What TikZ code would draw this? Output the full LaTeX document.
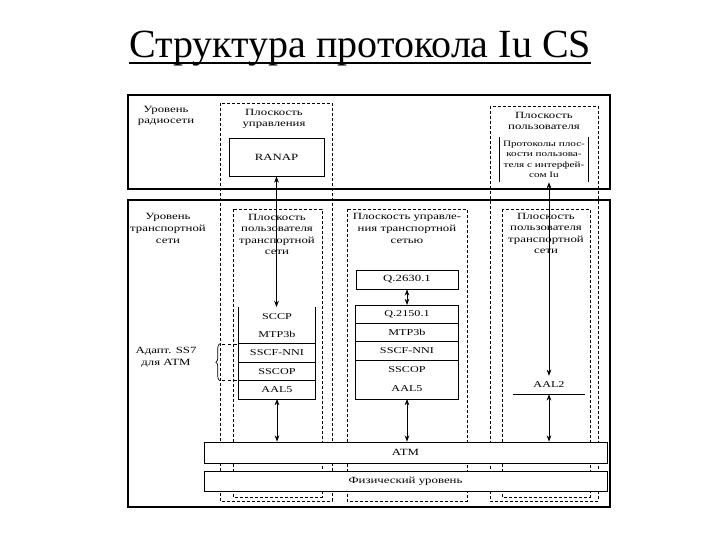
\documentclass[tikz,border=0pt]{standalone}
\usepackage{fontspec}
\setmainfont{Liberation Serif}
\newfontfamily\dgfont[FakeStretch=1.35]{Liberation Serif}
\usetikzlibrary{positioning,arrows.meta,decorations.pathreplacing}
\tikzset{
  frm/.style={draw, line width=1.1pt},
  pln/.style={draw, line width=0.7pt, dash pattern=on 3pt off 2pt},
  hdg/.style={align=center, inner sep=0pt, font=\dgfont\fontsize{9.5}{11.6}\selectfont},
  hdgs/.style={align=center, inner sep=0pt, font=\dgfont\fontsize{8.3}{10.4}\selectfont},
  lyr/.style={minimum width=76pt, minimum height=18pt, inner sep=0pt,
    font=\dgfont\fontsize{9}{10}\selectfont},
  box/.style={draw, line width=0.8pt, fill=white, inner sep=0pt,
    font=\dgfont\fontsize{9.5}{11}\selectfont},
  flow/.style={{Stealth[length=2.2mm]}-{Stealth[length=2.2mm]}, line width=0.8pt},
}

\begin{document}
\begin{tikzpicture}[x=1pt, y=-1pt]
    \useasboundingbox (0,0) rectangle (720,540);
    % title
    \node[font=\fontsize{40}{44}\selectfont, anchor=base, inner sep=0pt] (ttl) at (360,58)
      {Структура протокола Iu CS};
    \draw[line width=1.2pt] ([yshift=-5pt]ttl.base west) -- ([yshift=-5pt]ttl.base east);
    % levels
    \draw[frm] (128,95) rectangle (610,189);
    \draw[frm] (128,200) rectangle (610,507);
    % planes
    \draw[pln] (220,103) rectangle (332,501);
    \draw[pln] (233,209) rectangle (322,497);
    \draw[pln] (347,209) rectangle (467,501);
    \draw[pln] (490,106) rectangle (598,501);
    \draw[pln] (502,209) rectangle (590,497);
    % radio network level
    \node[hdg] (radio) at (166,116) {Уровень\\радиосети};
    \node[hdg] (cpl) at (274,119) {Плоскость\\управления};
    \node[box, minimum width=95pt, minimum height=38pt] (ranap) at (276.5,157) {RANAP};
    \node[hdg] (upl) at (544,121) {Плоскость\\пользователя};
    \node[hdgs, minimum width=88pt, minimum height=45pt] (upp) at (544,159.5)
      {Протоколы плос-\\кости пользова-\\теля с интерфей-\\сом Iu};
    \draw[line width=0.8pt] (upp.north west) -- (upp.south west);
    \draw[line width=0.8pt] (upp.north east) -- (upp.south east);
    % transport network level
    \node[hdg] (trl) at (168,228.5) {Уровень\\транспортной\\сети};
    \node[hdg] (upt1) at (277,234.5) {Плоскость\\пользователя\\транспортной\\сети};
    \node[hdg] (cpt) at (407,228.5) {Плоскость управле-\\ния транспортной\\сетью};
    \node[hdg] (upt3) at (546,233.5) {Плоскость\\пользователя\\транспортной\\сети};
    % user plane stack
    \node[lyr, anchor=north] (sccp) at (277,307) {SCCP};
    \node[lyr, below=0pt of sccp] (mtp1) {MTP3b};
    \node[lyr, below=0pt of mtp1] (sscf1) {SSCF-NNI};
    \node[lyr, below=0pt of sscf1] (sscop1) {SSCOP};
    \node[lyr, below=0pt of sscop1] (aal5a) {AAL5};
    \draw[line width=0.8pt] (sccp.north west) -- (aal5a.south west) -- (aal5a.south east) -- (sccp.north east);
    \foreach \n in {sscf1,sscop1,aal5a}
      \draw[line width=0.8pt] (\n.north west) -- (\n.north east);
    % control plane stack
    \node[box, minimum width=102pt, minimum height=19pt] (q2630) at (407,279.5) {Q.2630.1};
    \node[lyr, minimum width=102pt, anchor=north] (q2150) at (407,305) {Q.2150.1};
    \node[lyr, minimum width=102pt, below=0pt of q2150] (mtp2) {MTP3b};
    \node[lyr, minimum width=102pt, below=0pt of mtp2] (sscf2) {SSCF-NNI};
    \node[lyr, minimum width=102pt, below=0pt of sscf2] (sscop2) {SSCOP};
    \node[lyr, minimum width=102pt, minimum height=20pt, below=0pt of sscop2] (aal5b) {AAL5};
    \draw[line width=0.8pt] (q2150.north west) rectangle (aal5b.south east);
    \foreach \n in {mtp2,sscf2,sscop2}
      \draw[line width=0.8pt] (\n.north west) -- (\n.north east);
    % user plane AAL2
    \node[lyr, minimum width=72pt] (aal2) at (549,385) {AAL2};
    \draw[line width=0.8pt] (aal2.south west) -- (aal2.south east);
    % SS7 adaptation
    \node[hdg] (adapt) at (166,357.5) {Адапт. SS7\\для ATM};
    \draw[line width=0.7pt, decorate, decoration={brace, amplitude=4pt}]
      ([xshift=-19pt]aal5a.north west) -- ([xshift=-19pt]sscf1.north west);
    \draw[dashed, line width=0.6pt] ([xshift=-17pt]sscf1.north west) -- (sscf1.north west);
    \draw[dashed, line width=0.6pt] ([xshift=-17pt]aal5a.north west) -- (aal5a.north west);
    % ATM and physical layer
    \node[box, minimum width=403pt, minimum height=21pt] (atm) at (405.5,452.5) {ATM};
    \node[box, minimum width=403pt, minimum height=20pt] (phy) at (405.5,481.5) {Физический уровень};
    % arrows
    \draw[flow] (ranap.south) -- (ranap.south |- sccp.north);
    \draw[flow] (aal5a.south) -- (aal5a.south |- atm.north);
    \draw[flow] (q2630) -- (q2150);
    \draw[flow] (aal5b.south) -- (aal5b.south |- atm.north);
    \draw[flow] (aal2.north |- upp.south) -- (aal2.north);
    \draw[flow] (aal2.south) -- (aal2.south |- atm.north);
\end{tikzpicture}
\end{document}
